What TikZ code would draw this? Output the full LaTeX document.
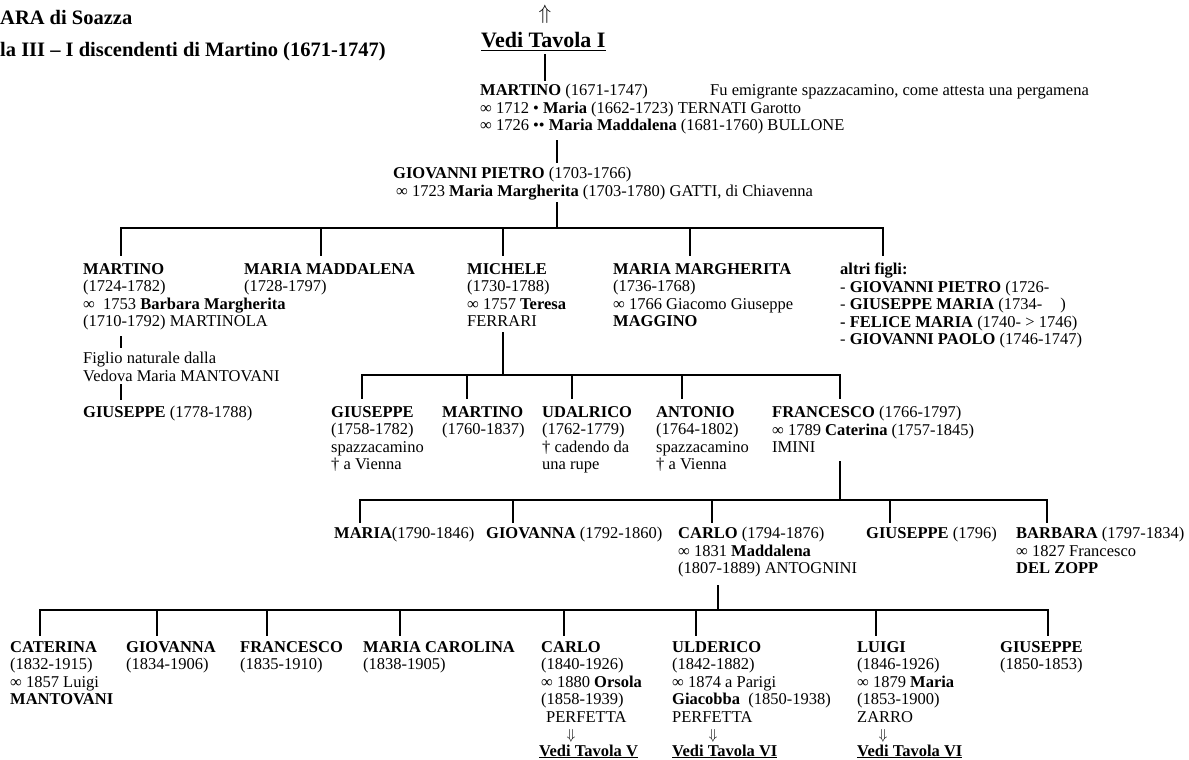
\documentclass[tikz,border=0pt]{standalone}
\usepackage{fontspec}
\setmainfont{Liberation Serif}
\begin{document}
\begin{tikzpicture}[x=1pt,y=-1pt]
\tikzset{persona/.style={anchor=north west, align=left, inner sep=0pt, font=\fontsize{16.5}{17.5}\selectfont},
  titolo/.style={anchor=base west, inner sep=0pt, font=\fontsize{20.5}{24}\selectfont\bfseries},
  tavola/.style={anchor=base west, inner sep=0pt, font=\fontsize{16.5}{17.5}\selectfont\bfseries},
  freccia/.style={inner sep=0pt, font=\fontsize{15}{16}\selectfont},
  linea/.style={line width=2.6pt, line cap=rect}}
\useasboundingbox (0,0) rectangle (1189,760);
% intestazione
\node[titolo] (soazza) at (0,25) {ARA di Soazza};
\node[titolo] (tit) at (0,57) {la III – I discendenti di Martino (1671-1747)};
\node[freccia, font=\fontsize{21}{22}\selectfont] (su) at (545,14) {$\Uparrow$};
\node[titolo, font=\fontsize{22}{24}\selectfont\bfseries] (tav1) at (481,48) {\underline{Vedi Tavola I}};
% capostipite
\node[persona] (mart) at (480,84) {\textbf{MARTINO} (1671-1747)\\
  ∞ 1712 • \textbf{Maria} (1662-1723) TERNATI Garotto\\
  ∞ 1726 •• \textbf{Maria Maddalena} (1681-1760) BULLONE};
\node[persona] (nota) at (710,84) {Fu emigrante spazzacamino, come attesta una pergamena};
\node[persona] (gp) at (393,167) {\textbf{GIOVANNI PIETRO} (1703-1766)\\
  \hspace{3pt}∞ 1723 \textbf{Maria Margherita} (1703-1780) GATTI, di Chiavenna};
\draw[linea, shorten <=5pt, shorten >=4pt] (545,0 |- tav1.south) -- (545,0 |- mart.north);
\draw[linea, shorten <=7pt, shorten >=5pt] (557,0 |- mart.south) -- (557,0 |- gp.north);
% figli di Giovanni Pietro
\node[persona] (martinoB) at (83,263) {\textbf{MARTINO}\\(1724-1782)\\∞\ \ 1753 \textbf{Barbara Margherita}\\(1710-1792) MARTINOLA};
\node[persona] (maddalena) at (244,263) {\textbf{MARIA MADDALENA}\\(1728-1797)};
\node[persona] (michele) at (467,263) {\textbf{MICHELE}\\(1730-1788)\\∞ 1757 \textbf{Teresa}\\FERRARI};
\node[persona] (margherita) at (613,263) {\textbf{MARIA MARGHERITA}\\(1736-1768)\\∞ 1766 Giacomo Giuseppe\\\textbf{MAGGINO}};
\node[persona] (altri) at (840,263) {\textbf{altri figli:}\\
  - \textbf{GIOVANNI PIETRO} (1726-\\
  - \textbf{GIUSEPPE MARIA} (1734-\hspace{1.1em})\\
  \textbf{- FELICE MARIA} (1740- > 1746)\\
  - \textbf{GIOVANNI PAOLO} (1746-1747)};
\coordinate (s1w) at (121,228);
\coordinate (s1e) at (883,228);
\draw[linea, shorten <=3pt] (557,0 |- gp.south) -- (557,0 |- s1w);
\draw[linea] (s1w) -- (s1e);
\foreach \n/\x in {martinoB/121, maddalena/321, michele/503, margherita/690, altri/883}
  \draw[linea, shorten >=8pt] (\x,0 |- s1w) -- (\x,0 |- \n.north);
% ramo di Martino
\node[persona] (figlio) at (83,352) {Figlio naturale dalla\\Vedova Maria MANTOVANI};
\node[persona] (giuseppeA) at (83,406) {\textbf{GIUSEPPE} (1778-1788)};
\draw[linea, shorten <=7pt, shorten >=5pt] (121,0 |- martinoB.south) -- (121,0 |- figlio.north);
\draw[linea, shorten <=4pt, shorten >=7pt] (121,0 |- figlio.south) -- (121,0 |- giuseppeA.north);
% figli di Michele
\node[persona] (giuseppeB) at (331,406) {\textbf{GIUSEPPE}\\(1758-1782)\\spazzacamino\\† a Vienna};
\node[persona] (martinoC) at (442,406) {\textbf{MARTINO}\\(1760-1837)};
\node[persona] (udalrico) at (542,406) {\textbf{UDALRICO}\\(1762-1779)\\† cadendo da\\una rupe};
\node[persona] (antonio) at (656,406) {\textbf{ANTONIO}\\(1764-1802)\\spazzacamino\\† a Vienna};
\node[persona] (francesco) at (772,406) {\textbf{FRANCESCO} (1766-1797)\\∞ 1789 \textbf{Caterina} (1757-1845)\\IMINI};
\coordinate (s2w) at (362,375);
\coordinate (s2e) at (840,375);
\draw[linea, shorten <=6pt] (503,0 |- michele.south) -- (503,0 |- s2w);
\draw[linea] (s2w) -- (s2e);
\foreach \n/\x in {giuseppeB/362, martinoC/467, udalrico/572, antonio/682, francesco/840}
  \draw[linea, shorten >=8pt] (\x,0 |- s2w) -- (\x,0 |- \n.north);
% figli di Francesco
\node[persona] (maria) at (334,527) {\textbf{MARIA}(1790-1846)};
\node[persona] (giovanna) at (486,527) {\textbf{GIOVANNA} (1792-1860)};
\node[persona] (carlo) at (678,527) {\textbf{CARLO} (1794-1876)\\∞ 1831 \textbf{Maddalena}\\(1807-1889) ANTOGNINI};
\node[persona] (giuseppeD) at (866,527) {\textbf{GIUSEPPE} (1796)};
\node[persona] (barbara) at (1016,527) {\textbf{BARBARA} (1797-1834)\\∞ 1827 Francesco\\\textbf{DEL ZOPP}};
\coordinate (s3w) at (360,500);
\coordinate (s3e) at (1047,500);
\draw[linea, shorten <=9pt] (840,0 |- francesco.south) -- (840,0 |- s3w);
\draw[linea] (s3w) -- (s3e);
\foreach \n/\x in {maria/360, giovanna/513, carlo/712, giuseppeD/890, barbara/1047}
  \draw[linea, shorten >=5pt] (\x,0 |- s3w) -- (\x,0 |- \n.north);
% figli di Carlo
\node[persona] (caterina) at (10,641) {\textbf{CATERINA}\\(1832-1915)\\∞ 1857 Luigi\\\textbf{MANTOVANI}};
\node[persona] (giovannaB) at (126,641) {\textbf{GIOVANNA}\\(1834-1906)};
\node[persona] (francescoB) at (240,641) {\textbf{FRANCESCO}\\(1835-1910)};
\node[persona] (carolina) at (363,641) {\textbf{MARIA CAROLINA}\\(1838-1905)};
\node[persona] (carloB) at (541,641) {\textbf{CARLO}\\(1840-1926)\\∞ 1880 \textbf{Orsola}\\(1858-1939)\\\hspace{5pt}PERFETTA};
\node[persona] (ulderico) at (672,641) {\textbf{ULDERICO}\\(1842-1882)\\∞ 1874 a Parigi\\\textbf{Giacobba}\ \ (1850-1938)\\PERFETTA};
\node[persona] (luigi) at (857,641) {\textbf{LUIGI}\\(1846-1926)\\∞ 1879 \textbf{Maria}\\(1853-1900)\\ZARRO};
\node[persona] (giuseppeE) at (1000,641) {\textbf{GIUSEPPE}\\(1850-1853)};
\coordinate (s4w) at (40,610);
\coordinate (s4e) at (1048,610);
\draw[linea, shorten <=9pt] (718,0 |- carlo.south) -- (718,0 |- s4w);
\draw[linea] (s4w) -- (s4e);
\foreach \n/\x in {caterina/40, giovannaB/157, francescoB/267, carolina/400, carloB/564, ulderico/696, luigi/876, giuseppeE/1048}
  \draw[linea, shorten >=6pt] (\x,0 |- s4w) -- (\x,0 |- \n.north);
% rimandi
\node[freccia] (giu1) at (571,736) {$\Downarrow$};
\node[freccia] (giu2) at (713,736) {$\Downarrow$};
\node[freccia] (giu3) at (883,736) {$\Downarrow$};
\node[tavola] (tav5) at (539,756) {\underline{Vedi Tavola V}};
\node[tavola] (tav6a) at (672,756) {\underline{Vedi Tavola VI}};
\node[tavola] (tav6b) at (857,756) {\underline{Vedi Tavola VI}};
\end{tikzpicture}
\end{document}
